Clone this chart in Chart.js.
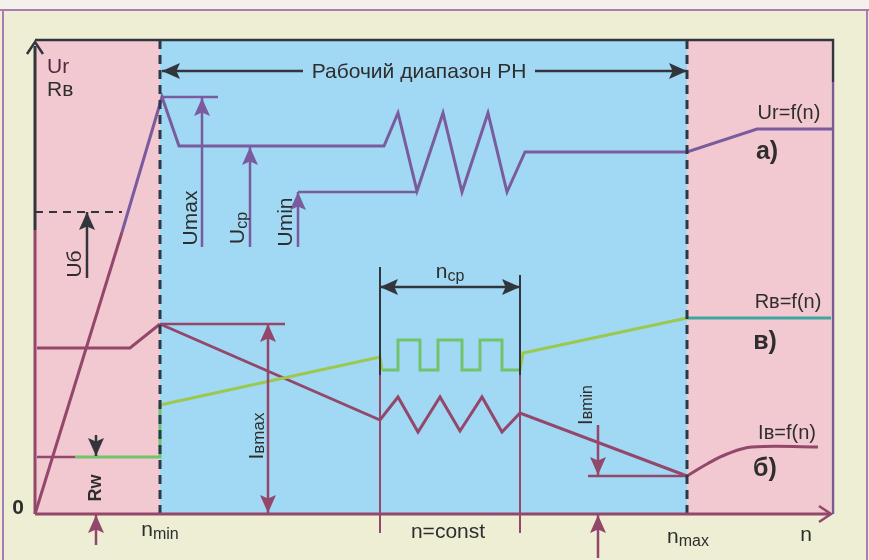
<!DOCTYPE html>
<html>
<head>
<meta charset="utf-8">
<script src="https://cdn.jsdelivr.net/npm/chart.js@4/dist/chart.umd.min.js"></script>
<style>
  html, body { margin: 0; padding: 0; background: #eeeed4; }
  canvas { display: block; }
</style>
</head>
<body>
<canvas id="c" width="869" height="560"></canvas>
<script>
// ---- working range of the regulator (speed axis, arbitrary units) ----
const nMin = 125;
const nMax = 652;
const nEnd = 796;
const vTop = 474;

// ---- а) generator voltage Ur = f(n) ----
const urStart   = [[0, 0], [87, 282]];
const urCurve   = [[87, 282], [127, 417], [144, 368], [349, 368], [363, 401], [382, 323], [408, 401],
                   [427, 322], [453, 401], [472, 322], [490, 362], [652, 362], [722, 385], [797, 385]];
const uMaxLevel = [[127, 417], [183, 417]];
const uMinLevel = [[263, 322], [382, 322]];
const uBLevel   = [[0, 302], [87, 302]];

// ---- б) excitation current Iв = f(n) ----
const ibStart   = [[2, 166], [95, 166], [125, 190]];
const ibMain    = [[125, 190], [345, 94], [363, 117], [383, 82], [405, 117], [425, 83], [447, 117],
                   [467, 82], [485, 101], [652, 38]];
const ibTail    = [[652, 38], [672, 50], [692, 60], [717, 67], [783, 67]];
const iMaxLevel = [[125, 190], [250, 190]];
const iMinLevel = [[553, 38], [652, 38]];

// ---- в) excitation winding resistance Rв = f(n) ----
const rwLevel   = [[2, 57], [40, 57]];
const rbLow     = [[40, 57], [125, 57], [125, 109]];
const rbRise1   = [[125, 109], [345, 157], [347, 144]];
const rbWave    = [[347, 144], [363, 144], [363, 174], [385, 174], [385, 144], [403, 144], [403, 174],
                   [427, 174], [427, 144], [445, 144], [445, 174], [467, 174], [467, 144], [485, 144]];
const rbRise2   = [[485, 144], [488, 161], [652, 196]];
const rbTail    = [[652, 196], [796, 196]];

// ---- n = const window (nср) ----
const nCpFrom = 345;
const nCpTo   = 485;

const C = {
  purple: '#7a5c9e', maroon: '#93476b', green: '#72c46c', yellowGreen: '#9cc84e',
  teal: '#3fa6a2', dark: '#33353c', dash: '#2b3848', text: '#2e2e2e',
  pink: '#f2c9d0', blue: '#a1d8f3', page: '#eeeed4', frame: '#a97cb4'
};

function line(data, color, width, extra) {
  return Object.assign({
    data: data.map(([x, y]) => ({ x, y })),
    showLine: true, borderColor: color, borderWidth: width,
    pointRadius: 0, pointHoverRadius: 0, fill: false, tension: 0, clip: false,
    borderJoinStyle: 'miter', borderCapStyle: 'butt'
  }, extra || {});
}

const datasets = [
  // speed boundaries
  line([[nMin, 0], [nMin, vTop]], C.dash, 3, { borderDash: [9, 6] }),
  line([[nMax, 0], [nMax, vTop]], C.dash, 3, { borderDash: [9, 6] }),
  // nср window verticals
  line([[nCpFrom, 247], [nCpFrom, 139]], C.dark, 2),
  line([[nCpFrom, 139], [nCpFrom, -19]], C.maroon, 2),
  line([[nCpTo, 239], [nCpTo, 139]], C.dark, 2),
  line([[nCpTo, 139], [nCpTo, -19]], C.maroon, 2),
  // levels
  line(uMaxLevel, C.purple, 2.5),
  line(uMinLevel, C.purple, 2.5),
  line(uBLevel, C.dark, 2, { borderDash: [8, 6] }),
  line(iMaxLevel, C.maroon, 2.5),
  line(iMinLevel, C.maroon, 2.5),
  line(rwLevel, C.maroon, 2.5),
  // Rв
  line(rbLow, C.green, 3),
  line(rbRise1, C.yellowGreen, 3),
  line(rbWave, C.green, 3),
  line(rbRise2, C.yellowGreen, 3),
  line(rbTail, C.teal, 3),
  // Iв
  line(ibStart, C.maroon, 3),
  line(ibMain, C.maroon, 3),
  line(ibTail, C.maroon, 3, { tension: 0.4 }),
  // Ur
  line(urStart, C.maroon, 3),
  line(urCurve, C.purple, 3)
];

// arrows: [from, to, colour, double-headed]
const arrows = [
  [[268, 443], [127, 443], C.dark, false],
  [[500, 443], [652, 443], C.dark, false],
  [[nCpFrom, 227], [nCpTo, 227], C.dark, true],
  [[167, 267], [167, 416], C.purple, false],
  [[215, 267], [215, 367], C.purple, false],
  [[263, 267], [263, 322], C.purple, false],
  [[52, 236], [52, 302], C.dark, false],
  [[233, 190], [233, 1], C.maroon, true],
  [[563, 89], [563, 39], C.maroon, false],
  [[61, 79], [61, 58], C.dark, false],
  [[61, -31], [61, -1], C.maroon, false],
  [[563, -44], [563, -1], C.maroon, false]
];

const F = '"Liberation Sans", Arial, sans-serif';
// text: parts [string, size, baseline shift], anchor in axis units
const labels = [
  { parts: [['Ur', 21]], at: [12, 447], align: 'left', color: '#55293f' },
  { parts: [['Rв', 21]], at: [12, 424], align: 'left' },
  { parts: [['Рабочий диапазон РН', 21]], at: [384, 442] },
  { parts: [['Umax', 21]], at: [156, 296], rot: true },
  { parts: [['U', 21], ['cp', 16, 5]], at: [203, 286], rot: true },
  { parts: [['Umin', 21]], at: [251, 292], rot: true },
  { parts: [['Uб', 21]], at: [40, 250], rot: true },
  { parts: [['Ur=f(n)', 20]], at: [754, 401] },
  { parts: [['а)', 25]], at: [732, 362], bold: true },
  { parts: [['Rв=f(n)', 20]], at: [753, 212] },
  { parts: [['в)', 25]], at: [730, 172], bold: true },
  { parts: [['Iв=f(n)', 20]], at: [752, 81] },
  { parts: [['б)', 25]], at: [730, 45], bold: true },
  { parts: [['n', 21], ['cp', 16, 5]], at: [415, 242] },
  { parts: [['I', 21], ['вmax', 17, 2]], at: [222, 78], rot: true },
  { parts: [['I', 20], ['вmin', 16, 2]], at: [551, 109], rot: true },
  { parts: [['Rw', 18]], at: [61, 26], rot: true, bold: true },
  { parts: [['0', 21]], at: [-17, 6], bold: true },
  { parts: [['n', 21], ['min', 16, 5]], at: [125, -16] },
  { parts: [['n=const', 21]], at: [413, -18] },
  { parts: [['n', 21], ['max', 16, 5]], at: [653, -23] },
  { parts: [['n', 21]], at: [771, -21] }
];

function toPx(chart, p) {
  return [chart.scales.x.getPixelForValue(p[0]), chart.scales.y.getPixelForValue(p[1])];
}

function head(ctx, tip, from, len, half, color) {
  const a = Math.atan2(tip[1] - from[1], tip[0] - from[0]);
  ctx.save();
  ctx.translate(tip[0], tip[1]);
  ctx.rotate(a);
  ctx.beginPath();
  ctx.moveTo(0, 0);
  ctx.lineTo(-len, -half);
  ctx.lineTo(-len * 0.8, 0);
  ctx.lineTo(-len, half);
  ctx.closePath();
  ctx.fillStyle = color;
  ctx.fill();
  ctx.restore();
}

function drawArrow(ctx, a, b, color, both, width) {
  ctx.save();
  ctx.strokeStyle = color;
  ctx.lineWidth = width || 2.5;
  ctx.beginPath();
  ctx.moveTo(a[0], a[1]);
  ctx.lineTo(b[0], b[1]);
  ctx.stroke();
  head(ctx, b, a, 18, 8, color);
  if (both) head(ctx, a, b, 18, 8, color);
  ctx.restore();
}

const backdrop = {
  id: 'backdrop',
  beforeDraw(chart) {
    const ctx = chart.ctx;
    ctx.save();
    ctx.fillStyle = C.page;
    ctx.fillRect(0, 0, chart.width, chart.height);
    ctx.fillStyle = '#f3f1ea';
    ctx.fillRect(0, 0, chart.width, 9);
    ctx.strokeStyle = C.frame;
    ctx.lineWidth = 2;
    ctx.beginPath();
    ctx.moveTo(0, 10); ctx.lineTo(chart.width, 10);
    ctx.moveTo(3, 10); ctx.lineTo(3, chart.height);
    ctx.moveTo(867, 10); ctx.lineTo(867, chart.height);
    ctx.stroke();

    const xs = chart.scales.x, ys = chart.scales.y;
    const x0 = xs.getPixelForValue(0), x1 = xs.getPixelForValue(nMin);
    const x2 = xs.getPixelForValue(nMax), x3 = xs.getPixelForValue(nEnd);
    const yT = ys.getPixelForValue(vTop), yB = ys.getPixelForValue(0);
    ctx.fillStyle = C.pink;
    ctx.fillRect(x0, yT, x1 - x0, yB - yT);
    ctx.fillRect(x2, yT, x3 - x2, yB - yT);
    ctx.fillStyle = C.blue;
    ctx.fillRect(x1, yT, x2 - x1, yB - yT);

    // frame: top and right edges
    ctx.lineWidth = 2.5;
    ctx.strokeStyle = C.dark;
    ctx.beginPath();
    ctx.moveTo(x0, yT); ctx.lineTo(x3 + 2, yT); ctx.lineTo(x3 + 2, yT + 42);
    ctx.stroke();
    ctx.strokeStyle = '#7d5a92';
    ctx.beginPath();
    ctx.moveTo(x3 + 2, yT + 42); ctx.lineTo(x3 + 2, yB);
    ctx.stroke();
    ctx.restore();
  },
  afterDatasetsDraw(chart) {
    const ctx = chart.ctx;
    // axes
    const o = toPx(chart, [0, 0]);
    const yMid = toPx(chart, [0, 284]);
    const yTop = toPx(chart, [0, vTop - 2]);
    const xEnd = toPx(chart, [nEnd, 0]);
    ctx.save();
    ctx.lineWidth = 3;
    ctx.strokeStyle = C.maroon;
    ctx.beginPath(); ctx.moveTo(o[0], o[1]); ctx.lineTo(yMid[0], yMid[1]); ctx.stroke();
    ctx.strokeStyle = C.dark;
    ctx.beginPath(); ctx.moveTo(yMid[0], yMid[1]); ctx.lineTo(yTop[0], yTop[1] + 4); ctx.stroke();
    ctx.lineWidth = 2.5;
    ctx.beginPath();
    ctx.moveTo(yTop[0] - 8, yTop[1] + 12); ctx.lineTo(yTop[0], yTop[1]); ctx.lineTo(yTop[0] + 8, yTop[1] + 12);
    ctx.stroke();
    ctx.strokeStyle = C.maroon;
    ctx.lineWidth = 3;
    ctx.beginPath(); ctx.moveTo(o[0], o[1]); ctx.lineTo(xEnd[0], xEnd[1]); ctx.stroke();
    ctx.lineWidth = 2.5;
    ctx.beginPath();
    ctx.moveTo(xEnd[0] - 12, xEnd[1] - 8); ctx.lineTo(xEnd[0], xEnd[1]); ctx.lineTo(xEnd[0] - 12, xEnd[1] + 8);
    ctx.stroke();
    ctx.restore();

    arrows.forEach(([a, b, col, both]) => drawArrow(ctx, toPx(chart, a), toPx(chart, b), col, both));

    labels.forEach(l => {
      const p = toPx(chart, l.at);
      const weight = l.bold ? 'bold ' : '';
      ctx.save();
      ctx.translate(p[0], p[1]);
      if (l.rot) ctx.rotate(-Math.PI / 2);
      ctx.fillStyle = l.color || C.text;
      ctx.textBaseline = 'middle';
      ctx.textAlign = 'left';
      let w = 0;
      l.parts.forEach(([t, s]) => { ctx.font = weight + s + 'px ' + F; w += ctx.measureText(t).width; });
      let x = l.align === 'left' ? 0 : -w / 2;
      l.parts.forEach(([t, s, dy]) => {
        ctx.font = weight + s + 'px ' + F;
        ctx.fillText(t, x, dy || 0);
        x += ctx.measureText(t).width;
      });
      ctx.restore();
    });
  }
};

new Chart(document.getElementById('c'), {
  type: 'scatter',
  data: { datasets },
  options: {
    responsive: false,
    animation: false,
    devicePixelRatio: 1,
    events: [],
    layout: { padding: { left: 35, right: 38, top: 40, bottom: 46 } },
    scales: {
      x: { type: 'linear', min: 0, max: nEnd, display: false },
      y: { type: 'linear', min: 0, max: vTop, display: false }
    },
    plugins: { legend: { display: false }, tooltip: { enabled: false } }
  },
  plugins: [backdrop]
});
</script>
</body>
</html>
